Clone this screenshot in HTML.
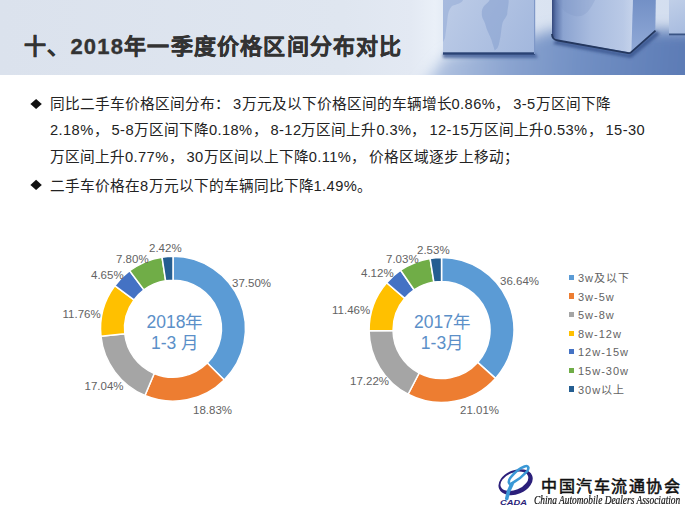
<!DOCTYPE html>
<html lang="zh-CN"><head><meta charset="utf-8">
<style>
html,body{margin:0;padding:0;}
body{width:685px;height:513px;overflow:hidden;background:#fff;position:relative;font-family:"Liberation Sans",sans-serif;}
#hdr{position:absolute;left:0;top:0;width:685px;height:75px;}
#title{position:absolute;left:24px;top:28px;font-size:22px;font-weight:bold;color:#333;white-space:nowrap;letter-spacing:1.2px;-webkit-text-stroke:0.35px #333;}
.ln{position:absolute;left:50px;white-space:nowrap;font-size:14.67px;color:#222;}
.a{letter-spacing:0.4px;}
.p{letter-spacing:3px;}
.bul{position:absolute;left:30px;font-size:13px;color:#111;}
svg{position:absolute;left:0;top:0;}
.lab{position:absolute;font-size:11.5px;color:#636363;white-space:nowrap;line-height:12px;}
.ctr{position:absolute;font-size:17.5px;color:#5b8fc8;white-space:nowrap;line-height:20.5px;text-align:center;}
.leg{position:absolute;left:578px;letter-spacing:1px;font-size:11px;color:#636363;white-space:nowrap;line-height:12px;}
.sq{position:absolute;left:569px;width:5.3px;height:5.3px;margin-top:-0.3px;}
#logo1{position:absolute;left:541px;top:477.5px;font-family:"Liberation Serif",serif;font-weight:normal;-webkit-text-stroke:0.55px #111;font-size:16px;letter-spacing:1.5px;color:#111;white-space:nowrap;line-height:18px;}
#logo2{position:absolute;left:534px;top:494px;font-family:"Liberation Serif",serif;font-style:italic;font-weight:normal;font-size:11.5px;color:#111;white-space:nowrap;line-height:12px;transform-origin:0 0;transform:scaleX(0.815);-webkit-text-stroke:0.2px #111;}
</style></head>
<body>
<svg id="hdr" width="685" height="75" viewBox="0 0 685 75">
<defs>
<linearGradient id="hg" x1="0" y1="0" x2="685" y2="0" gradientUnits="userSpaceOnUse">
<stop offset="0" stop-color="#dbe2ed"/>
<stop offset="0.5" stop-color="#dfe6f0"/>
<stop offset="0.6" stop-color="#e3e9f3"/>
<stop offset="0.635" stop-color="#eaf0f8"/>
<stop offset="0.66" stop-color="#dfe7f3"/>
<stop offset="1" stop-color="#d3deef"/>
</linearGradient>
<linearGradient id="fl" x1="400" y1="50" x2="685" y2="75" gradientUnits="userSpaceOnUse">
<stop offset="0" stop-color="#d6e0ef"/>
<stop offset="0.14" stop-color="#b0c2e0"/>
<stop offset="0.38" stop-color="#8ba4d0"/>
<stop offset="0.62" stop-color="#7290c4"/>
<stop offset="1" stop-color="#5c7bb5"/>
</linearGradient>
<filter id="bl" x="-20%" y="-50%" width="140%" height="200%"><feGaussianBlur stdDeviation="7"/></filter>
<filter id="bl2" x="-20%" y="-100%" width="140%" height="300%"><feGaussianBlur stdDeviation="1.5"/></filter>
<linearGradient id="c1" x1="443" y1="0" x2="535" y2="54" gradientUnits="userSpaceOnUse">
<stop offset="0" stop-color="#bdcce7"/>
<stop offset="1" stop-color="#a2b7dd"/>
</linearGradient>
<linearGradient id="c2" x1="552" y1="0" x2="631" y2="0" gradientUnits="userSpaceOnUse">
<stop offset="0" stop-color="#34487c"/>
<stop offset="0.05" stop-color="#5c75ab"/>
<stop offset="0.14" stop-color="#8ba3d0"/>
<stop offset="0.5" stop-color="#a9bcdf"/>
<stop offset="0.9" stop-color="#b9c9e6"/>
<stop offset="1" stop-color="#c3d1ea"/>
</linearGradient>
<linearGradient id="c2r" x1="0" y1="0" x2="0" y2="54" gradientUnits="userSpaceOnUse">
<stop offset="0" stop-color="#7390c6"/>
<stop offset="1" stop-color="#93abd8"/>
</linearGradient>
<linearGradient id="c3" x1="669" y1="0" x2="685" y2="35" gradientUnits="userSpaceOnUse">
<stop offset="0" stop-color="#c0cfe8"/>
<stop offset="1" stop-color="#a7bbdf"/>
</linearGradient>
</defs>
<rect width="685" height="75" fill="url(#hg)"/>
<g filter="url(#bl)"><polygon points="415,95 436,68 447,56 535,36 552,30 656,30 700,31 700,95" fill="url(#fl)"/></g>
<g filter="url(#bl2)"><polygon points="443,53 535,53 538,58 443,58" fill="#3d5a94" opacity="0.8"/>
<polygon points="556,40 629,54 656,31 660,34 631,58 553,44" fill="#34508a" opacity="0.8"/></g>
<rect x="443" y="0" width="92" height="54" fill="url(#c1)"/>
<path d="M443,0 L463,0 C462,3 457,4 452,6 C449,9 448,13 447.5,18 C447,24 446,30 445,38 L443,42 Z" fill="#8ca4d2" opacity="0.45"/>
<path d="M489.6,0 L508.6,0 C509,4 507.5,8 507.2,14.6 C506,18 503.5,20 502.8,22 C501.5,26 501.5,30 500.5,36.5 C499.5,40 499.5,44 497.5,48 L494.7,50.5 C493.5,46 492.5,44 491.5,40 C490,36 488,32 486.7,29 C485.5,25 485,23 484,21 C482.5,18 481.5,16 481.8,12 C482,9 483,7 485,5 C487,3 489,2 489.6,0 Z" fill="#86a0cf" opacity="0.55"/>
<rect x="443" y="52.3" width="92" height="2.4" fill="#2a4274"/>
<rect x="534" y="0" width="1.2" height="54" fill="#7f98c8"/>
<polygon points="552,0 632.5,0 630.8,52.5 557,40 552,36" fill="url(#c2)"/>
<path d="M556,0 C560,8 566,14 575,16 C585,18 590,10 595,0 Z" fill="#7a93c4" opacity="0.25"/>
<polygon points="632.5,0 655.8,0 655.3,30.6 630.8,52.5" fill="url(#c2r)"/>
<line x1="632.3" y1="0" x2="630.8" y2="52" stroke="#c5d3ec" stroke-width="1.2"/>
<path d="M552,34 C552,38 554,40 558,40.5 L627,52.8 C629,53.4 630,53.4 631,52.3 L655.5,30.6" fill="none" stroke="#24375e" stroke-width="1.8"/>
<rect x="669" y="0" width="16" height="35" fill="url(#c3)"/>
<rect x="669" y="33.5" width="16" height="1.8" fill="#3a5484"/>
</svg>
<div id="title">十、2018年一季度价格区间分布对比</div>
<svg width="50" height="200" style="position:absolute;left:0;top:0"><polygon points="30.4,104 36.1,98.9 41.8,104 36.1,109.1" fill="#111"/><polygon points="30.4,184.9 36.1,179.8 41.8,184.9 36.1,190" fill="#111"/></svg>
<div class="ln" style="top:92px">同比二手车价格区间分布<span class="p">：</span><span class="a">3</span>万元及以下价格区间的车辆增长<span class="a">0.86%</span><span class="p">，</span><span class="a">3-5</span>万区间下降</div>
<div class="ln" style="top:118px"><span class="a">2.18%</span><span class="p">，</span><span class="a">5-8</span>万区间下降<span class="a">0.18%</span><span class="p">，</span><span class="a">8-12</span>万区间上升<span class="a">0.3%</span><span class="p">，</span><span class="a">12-15</span>万区间上升<span class="a">0.53%</span><span class="p">，</span><span class="a">15-30</span></div>
<div class="ln" style="top:145px">万区间上升<span class="a">0.77%</span><span class="p">，</span><span class="a">30</span>万区间以上下降<span class="a">0.11%</span><span class="p">，</span>价格区域逐步上移动<span class="p">；</span></div>
<div class="ln" style="top:174px">二手车价格在<span class="a">8</span>万元以下的车辆同比下降<span class="a">1.49%</span>。</div>
<svg id="charts" width="685" height="513">
<path d="M173.00,256.30A72.45,72.45 0 0 1 224.23,379.98L207.29,363.04A48.5,48.5 0 0 0 173.00,280.25Z" fill="#5b9bd5" stroke="#fff" stroke-width="1.5" stroke-linejoin="miter"/>
<path d="M224.23,379.98A72.45,72.45 0 0 1 144.94,395.54L154.21,373.46A48.5,48.5 0 0 0 207.29,363.04Z" fill="#ed7d31" stroke="#fff" stroke-width="1.5" stroke-linejoin="miter"/>
<path d="M144.94,395.54A72.45,72.45 0 0 1 100.93,336.16L124.75,333.71A48.5,48.5 0 0 0 154.21,373.46Z" fill="#a5a5a5" stroke="#fff" stroke-width="1.5" stroke-linejoin="miter"/>
<path d="M100.93,336.16A72.45,72.45 0 0 1 114.74,285.69L134.00,299.92A48.5,48.5 0 0 0 124.75,333.71Z" fill="#ffc000" stroke="#fff" stroke-width="1.5" stroke-linejoin="miter"/>
<path d="M114.74,285.69A72.45,72.45 0 0 1 129.61,270.73L143.95,289.91A48.5,48.5 0 0 0 134.00,299.92Z" fill="#4472c4" stroke="#fff" stroke-width="1.5" stroke-linejoin="miter"/>
<path d="M129.61,270.73A72.45,72.45 0 0 1 162.03,257.14L165.65,280.81A48.5,48.5 0 0 0 143.95,289.91Z" fill="#70ad47" stroke="#fff" stroke-width="1.5" stroke-linejoin="miter"/>
<path d="M162.03,257.14A72.45,72.45 0 0 1 173.00,256.30L173.00,280.25A48.5,48.5 0 0 0 165.65,280.81Z" fill="#255e91" stroke="#fff" stroke-width="1.5" stroke-linejoin="miter"/>
<path d="M441.55,257.55A72.45,72.45 0 0 1 495.48,378.38L477.65,362.38A48.5,48.5 0 0 0 441.55,281.50Z" fill="#5b9bd5" stroke="#fff" stroke-width="1.5" stroke-linejoin="miter"/>
<path d="M495.48,378.38A72.45,72.45 0 0 1 408.07,394.25L419.14,373.01A48.5,48.5 0 0 0 477.65,362.38Z" fill="#ed7d31" stroke="#fff" stroke-width="1.5" stroke-linejoin="miter"/>
<path d="M408.07,394.25A72.45,72.45 0 0 1 369.10,330.63L393.05,330.42A48.5,48.5 0 0 0 419.14,373.01Z" fill="#a5a5a5" stroke="#fff" stroke-width="1.5" stroke-linejoin="miter"/>
<path d="M369.10,330.63A72.45,72.45 0 0 1 386.67,282.70L404.81,298.34A48.5,48.5 0 0 0 393.05,330.42Z" fill="#ffc000" stroke="#fff" stroke-width="1.5" stroke-linejoin="miter"/>
<path d="M386.67,282.70A72.45,72.45 0 0 1 400.61,270.23L414.14,289.99A48.5,48.5 0 0 0 404.81,298.34Z" fill="#4472c4" stroke="#fff" stroke-width="1.5" stroke-linejoin="miter"/>
<path d="M400.61,270.23A72.45,72.45 0 0 1 430.08,258.46L433.87,282.11A48.5,48.5 0 0 0 414.14,289.99Z" fill="#70ad47" stroke="#fff" stroke-width="1.5" stroke-linejoin="miter"/>
<path d="M430.08,258.46A72.45,72.45 0 0 1 441.55,257.55L441.55,281.50A48.5,48.5 0 0 0 433.87,282.11Z" fill="#255e91" stroke="#fff" stroke-width="1.5" stroke-linejoin="miter"/>
</svg>
<div class="lab" style="left:232px;top:277px">37.50%</div>
<div class="lab" style="left:193px;top:404px">18.83%</div>
<div class="lab" style="left:84.5px;top:380px">17.04%</div>
<div class="lab" style="left:62.5px;top:308px">11.76%</div>
<div class="lab" style="left:91px;top:268.5px">4.65%</div>
<div class="lab" style="left:116px;top:253px">7.80%</div>
<div class="lab" style="left:149px;top:242px">2.42%</div>
<div class="ctr" style="left:124.5px;top:312px;width:100px">2018年<br>1-3 月</div>
<div class="lab" style="left:500px;top:275px">36.64%</div>
<div class="lab" style="left:460px;top:404px">21.01%</div>
<div class="lab" style="left:350px;top:375px">17.22%</div>
<div class="lab" style="left:332px;top:304px">11.46%</div>
<div class="lab" style="left:361px;top:267px">4.12%</div>
<div class="lab" style="left:386px;top:253px">7.03%</div>
<div class="lab" style="left:417px;top:243.5px">2.53%</div>
<div class="ctr" style="left:392px;top:312px;width:100px">2017年<br>1-3月</div>
<div class="sq" style="top:275px;background:#5b9bd5"></div><div class="leg" style="top:272px">3w及以下</div>
<div class="sq" style="top:293.6px;background:#ed7d31"></div><div class="leg" style="top:290.6px">3w-5w</div>
<div class="sq" style="top:312.2px;background:#a5a5a5"></div><div class="leg" style="top:309.2px">5w-8w</div>
<div class="sq" style="top:330.8px;background:#ffc000"></div><div class="leg" style="top:327.8px">8w-12w</div>
<div class="sq" style="top:349.4px;background:#4472c4"></div><div class="leg" style="top:346.4px">12w-15w</div>
<div class="sq" style="top:368px;background:#70ad47"></div><div class="leg" style="top:365px">15w-30w</div>
<div class="sq" style="top:386.6px;background:#255e91"></div><div class="leg" style="top:383.6px">30w以上</div>
<svg id="emb" width="685" height="513">
<g transform="rotate(-22 515.6 482.2)">
<ellipse cx="515.6" cy="482.2" rx="17.8" ry="12" fill="#2b1f7a"/>
<ellipse cx="514.8" cy="480.9" rx="14.6" ry="8.6" fill="#fff"/>
</g>
<path d="M512.5,483 C508.5,486.5 507.5,481 511,477 C515,472 520.5,468 524.5,466.5 C529,464.8 529.5,468.5 526.5,472 C522.5,476.5 517,480.5 512.5,483 Z" fill="none" stroke="#3a98d6" stroke-width="2.6" stroke-linejoin="round"/>
<path d="M506.8,498.5 C507.5,494 509,489 512,484" fill="none" stroke="#3a98d6" stroke-width="3.6" stroke-linecap="round"/>
<text x="500" y="505.3" font-family="Liberation Sans" font-weight="bold" font-style="italic" font-size="8" fill="#2b1f7a" textLength="27" lengthAdjust="spacingAndGlyphs">CADA</text>
</svg>
<div id="logo1">中国汽车流通协会</div>
<div id="logo2">China Automobile Dealers Association</div>
</body></html>
